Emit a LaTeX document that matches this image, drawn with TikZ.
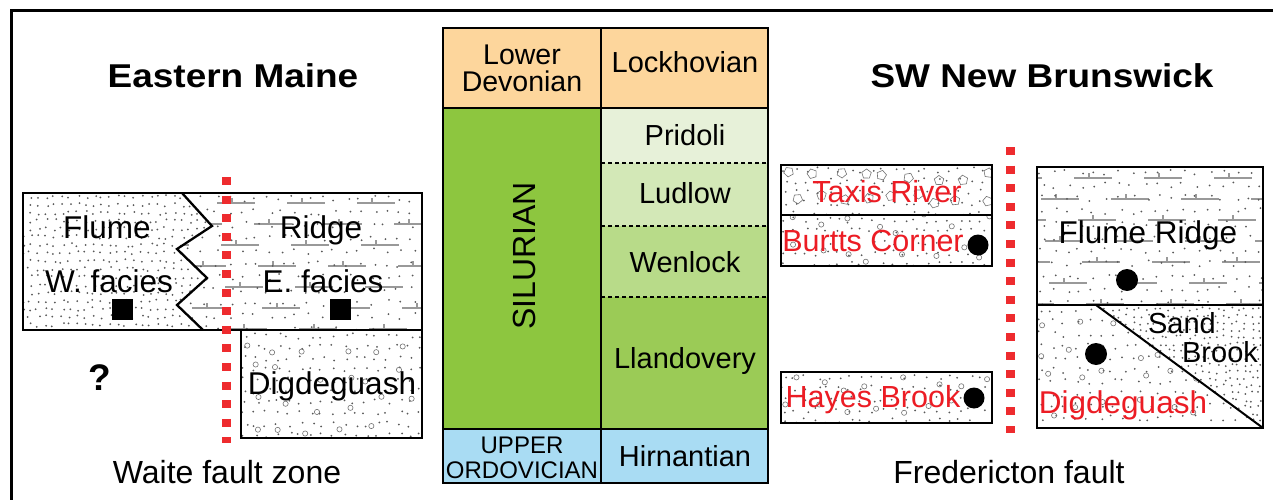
\documentclass[tikz,border=0pt]{standalone}
\usepackage{fontspec}
\setmainfont{Liberation Sans}
\usetikzlibrary{positioning}
\tikzset{>=stealth}

\definecolor{devon}{HTML}{FDD69C}
\definecolor{silur}{HTML}{8DC63F}
\definecolor{pridoli}{HTML}{E7F1D9}
\definecolor{ludlow}{HTML}{D3E8B7}
\definecolor{wenlock}{HTML}{B8DB89}
\definecolor{llando}{HTML}{9BCB56}
\definecolor{ordov}{HTML}{A9DCF3}
\definecolor{faultred}{HTML}{EE2B2E}
\definecolor{unitred}{HTML}{EC1C24}

\tikzset{
  unitbox/.style={draw,line width=2.3pt},
  chart/.style={draw,line width=2pt},
  agedash/.style={line width=1.3pt,dash pattern=on 4pt off 3pt},
  fault/.style={faultred,line width=9pt,dash pattern=on 8pt off 10.6pt},
  grain/.style={fill=black!65},
  pebble/.style={draw=black!55,line width=0.6pt},
  limeline/.style={draw=black!40,line width=1.1pt},
  region/.style={font=\fontsize{33}{35}\selectfont\bfseries,anchor=base,inner sep=0pt},
  unitlab/.style={font=\fontsize{31.5}{33}\selectfont,anchor=base,inner sep=0pt},
  redlab/.style={unitlab,text=unitred,font=\fontsize{30.5}{32}\selectfont},
  agelab/.style={font=\fontsize{29}{30}\selectfont,anchor=base,inner sep=0pt},
  faultlab/.style={font=\fontsize{32}{34}\selectfont,anchor=base,inner sep=0pt},
}

% grain patterns, drawn inside a clip
\newcommand\sandgrains[5]{%
  \pgfmathtruncatemacro\gxb{#1+#5}%
  \pgfmathtruncatemacro\gyb{#2+#5}%
  \foreach \gx in {#1,\gxb,...,#3}
    \foreach \gy in {#2,\gyb,...,#4}
      \fill[grain] (\gx+#5*0.3*rand,\gy+#5*0.25*rand) circle (1);%
}
\newcommand\pebbles[5]{%
  \pgfmathtruncatemacro\gxb{#1+#5}%
  \pgfmathtruncatemacro\gyb{#2+#5}%
  \foreach \gx in {#1,\gxb,...,#3}
    \foreach \gy in {#2,\gyb,...,#4}
      \draw[pebble] (\gx+#5*0.35*rand,\gy+#5*0.35*rand) circle (2.6);%
}
\newcommand\pentagons[5]{%
  \pgfmathtruncatemacro\gxb{#1+#5}%
  \pgfmathtruncatemacro\gyb{#2+#5}%
  \foreach \gx in {#1,\gxb,...,#3}
    \foreach \gy in {#2,\gyb,...,#4}
      \draw[pebble,shift={(\gx+#5*0.3*rand,\gy+#5*0.25*rand)},rotate=40*rand]
        (90:5) -- (162:5) -- (234:5) -- (306:5) -- (18:5) -- cycle;%
}
\newcommand\limebeds[5]{%
  \pgfmathtruncatemacro\lxa{#1-70}%
  \pgfmathtruncatemacro\lyb{#2+#5}%
  \foreach \ly [count=\li] in {#2,\lyb,...,#4} {
    \pgfmathsetmacro\loff{mod(\li*37,70)}
    \foreach \lx in {\lxa,#1,...,#3}
      \draw[limeline] (\lx+\loff,\ly) -- ++(38,0) (\lx+\loff+15,\ly) -- ++(0,-5);
  }%
}

\begin{document}
\begin{tikzpicture}[x=1pt,y=-1pt]
  \pgfmathsetseed{11}
  \useasboundingbox (0,0) rectangle (1273,500);
  \fill[white] (0,0) rectangle (1273,500);

  % frame
  \draw[line width=3pt] (11,500) -- (11,11) -- (1273,11);

  % Eastern Maine
  \begin{scope}
    \clip (23,193) -- (182,193) -- (212,226) -- (177,249) -- (207,278)
      -- (177,305) -- (203,330) -- (23,330) -- cycle;
    \sandgrains{22}{197}{215}{330}{8}
  \end{scope}
  \begin{scope}
    \clip (182,193) -- (422,193) -- (422,330) -- (203,330) -- (177,305)
      -- (207,278) -- (177,249) -- (212,226) -- cycle;
    \limebeds{180}{203}{422}{330}{21}
    \sandgrains{178}{199}{422}{330}{13}
  \end{scope}
  \begin{scope}
    \clip (241,330) rectangle (422,438);
    \sandgrains{245}{336}{422}{438}{11}
    \pebbles{252}{345}{422}{438}{30}
  \end{scope}
  \draw[unitbox] (23,193) rectangle (422,330);
  \draw[unitbox] (182,193) -- (212,226) -- (177,249) -- (207,278)
    -- (177,305) -- (203,330);
  \draw[unitbox] (241,330) rectangle (422,438);
  \fill (111.5,298.5) rectangle ++(21,21);
  \fill (329.5,298.5) rectangle ++(21,21);

  \node[region] (eastern) at (233,88) {\scalebox{1.12}[1]{Eastern Maine}};
  \node[unitlab] (flumeW) at (107,238) {Flume};
  \node[unitlab] (faciesW) at (109,292) {W. facies};
  \node[unitlab] (ridgeE) at (321,238) {Ridge};
  \node[unitlab] (faciesE) at (323,292) {E. facies};
  \node[unitlab] (digdegW) at (332,394) {Digdeguash};
  \node[font=\fontsize{37}{38}\selectfont\bfseries,anchor=base,inner sep=0pt] (unknown) at (100,390) {?};
  \node[faultlab] (waite) at (227,483) {Waite fault zone};

  % time scale
  \fill[devon] (443,28) rectangle (768,108);
  \fill[silur] (443,108) rectangle (601,429);
  \fill[pridoli] (601,108) rectangle (768,163);
  \fill[ludlow] (601,163) rectangle (768,226);
  \fill[wenlock] (601,226) rectangle (768,297);
  \fill[llando] (601,297) rectangle (768,429);
  \fill[ordov] (443,429) rectangle (768,483);
  \foreach \y in {163,226,297}
    \draw[agedash] (601,\y) -- (768,\y);
  \draw[chart] (443,28) rectangle (768,483);
  \draw[chart] (601,28) -- (601,483);
  \draw[chart] (443,108) -- (768,108);
  \draw[chart] (443,429) -- (768,429);

  \node[agelab,font=\fontsize{28.5}{30}\selectfont] (lower) at (522,65) {Lower};
  \node[agelab,font=\fontsize{28.5}{30}\selectfont] (devonian) at (522,92) {Devonian};
  \node[agelab] (lockhov) at (685,73) {Lockhovian};
  \node[agelab,font=\fontsize{32}{34}\selectfont,anchor=center,rotate=90] (silurian) at (524,256) {SILURIAN};
  \node[agelab] (pridoli) at (685,145) {Pridoli};
  \node[agelab] (ludlow) at (685,203) {Ludlow};
  \node[agelab] (wenlock) at (685,272) {Wenlock};
  \node[agelab] (llando) at (685,368) {Llandovery};
  \node[agelab,font=\fontsize{24}{25}\selectfont] (upper) at (522,453) {UPPER};
  \node[agelab,font=\fontsize{24}{25}\selectfont] (ordovic) at (522,478) {ORDOVICIAN};
  \node[agelab] (hirnant) at (685,466) {Hirnantian};

  % SW New Brunswick
  \begin{scope}
    \clip (781,165) rectangle (992,215);
    \sandgrains{784}{170}{992}{215}{11}
    \pentagons{792}{176}{992}{215}{24}
  \end{scope}
  \begin{scope}
    \clip (781,215) rectangle (992,266);
    \sandgrains{784}{220}{992}{266}{11}
    \pebbles{790}{224}{992}{266}{28}
  \end{scope}
  \begin{scope}
    \clip (781,372) rectangle (992,423);
    \sandgrains{784}{377}{992}{423}{11}
    \pebbles{790}{381}{992}{423}{28}
  \end{scope}
  \begin{scope}
    \clip (1037,167) rectangle (1263,305);
    \limebeds{1037}{178}{1263}{305}{21}
    \sandgrains{1041}{172}{1263}{305}{13}
  \end{scope}
  \begin{scope}
    \clip (1037,305) -- (1096,305) -- (1263,428) -- (1037,428) -- cycle;
    \sandgrains{1041}{310}{1263}{428}{12}
    \pebbles{1046}{318}{1263}{428}{30}
  \end{scope}
  \begin{scope}
    \clip (1096,305) -- (1263,305) -- (1263,428) -- cycle;
    \sandgrains{1098}{309}{1263}{428}{7}
  \end{scope}
  \draw[unitbox] (781,165) rectangle (992,215);
  \draw[unitbox] (781,215) rectangle (992,266);
  \draw[unitbox] (781,372) rectangle (992,423);
  \draw[unitbox] (1037,167) rectangle (1263,305);
  \draw[unitbox] (1037,305) rectangle (1263,428);
  \draw[line width=2pt] (1096,305) -- (1263,428);
  \fill (978,245) circle (10.5);
  \fill (974,398) circle (10.5);
  \fill (1127,280) circle (11);
  \fill (1096,354) circle (11);

  \node[region] (swnb) at (1042,88) {\scalebox{1.12}[1]{SW New Brunswick}};
  \node[redlab] (taxis) at (887,202) {Taxis River};
  \node[redlab] (burtts) at (873,251) {Burtts Corner};
  \node[redlab] (hayes) at (873,407) {Hayes Brook};
  \node[unitlab] (flumeR) at (1148,243) {Flume Ridge};
  \node[unitlab,font=\fontsize{29}{30}\selectfont] (sand) at (1182,333) {Sand};
  \node[unitlab,font=\fontsize{29}{30}\selectfont] (brook) at (1220,362) {Brook};
  \node[redlab,font=\fontsize{31.5}{33}\selectfont] (digdegE) at (1123,413) {Digdeguash};
  \node[faultlab] (fredericton) at (1009,483) {Fredericton fault};

  % faults
  \draw[fault] (226,177) -- (226,443);
  \draw[fault] (1010,147) -- (1010,433);
\end{tikzpicture}
\end{document}
